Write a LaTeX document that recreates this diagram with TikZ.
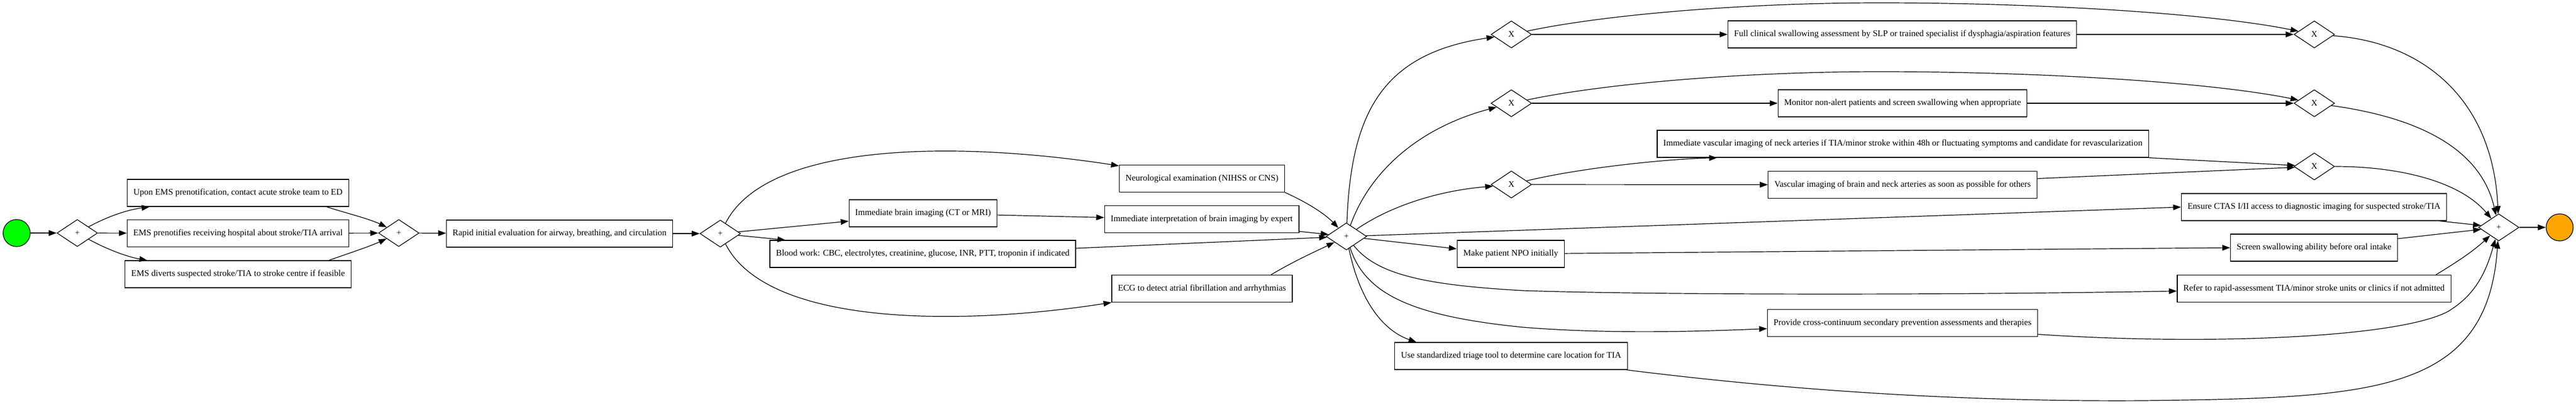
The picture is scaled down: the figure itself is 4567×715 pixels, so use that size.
\documentclass[tikz,border=0pt]{standalone}
\usepackage{fontspec}
\setmainfont{Liberation Serif}
\usetikzlibrary{shapes.geometric,arrows.meta}
\definecolor{startgreen}{HTML}{00FF00}
\definecolor{endorange}{HTML}{FFA500}
\begin{document}
\begin{tikzpicture}[x=1pt,y=-1pt,
  task/.style={draw, line width=1.2pt, rectangle, minimum height=48pt, inner xsep=11pt, inner ysep=0pt, font=\fontsize{15.5}{18}\selectfont},
  gate/.style={draw, line width=1.2pt, diamond, minimum width=72pt, minimum height=48pt, inner sep=0pt, font=\fontsize{15}{18}\selectfont},
  evt/.style={draw, line width=1.2pt, circle, minimum size=48pt, inner sep=0pt},
  flow/.style={draw, line width=1.2pt, -{Triangle[length=14pt,width=10pt]}},
]
\useasboundingbox (0,0) rectangle (4567,715);
% nodes
\node[evt, fill=startgreen] (start) at (29.5,413) {};
\node[gate] (g1) at (137,413) {+};
\node[task] (a1) at (422,342) {Upon EMS prenotification, contact acute stroke team to ED};
\node[task] (a2) at (422,413.5) {EMS prenotifies receiving hospital about stroke/TIA arrival};
\node[task] (a3) at (422,486) {EMS diverts suspected stroke/TIA to stroke centre if feasible};
\node[gate] (g2) at (707,413) {+};
\node[task] (r) at (992,414) {Rapid initial evaluation for airway, breathing, and circulation};
\node[gate] (g3) at (1277,414) {+};
\node[task] (b1) at (1636.5,378) {Immediate brain imaging (CT or MRI)};
\node[task] (b2) at (1636,450) {Blood work: CBC, electrolytes, creatinine, glucose, INR, PTT, troponin if indicated};
\node[task] (nx) at (2131,316.5) {Neurological examination (NIHSS or CNS)};
\node[task] (ii) at (2130.5,388.5) {Immediate interpretation of brain imaging by expert};
\node[task] (ecg) at (2131,511.5) {ECG to detect atrial fibrillation and arrhythmias};
\node[gate] (g4) at (2387,419) {+};
\node[gate] (x1) at (2679.5,61) {X};
\node[gate] (x2) at (2679.5,183) {X};
\node[gate] (x3) at (2679.5,327) {X};
\node[task] (npo) at (2678.5,450) {Make patient NPO initially};
\node[task] (use) at (2679,631) {Use standardized triage tool to determine care location for TIA};
\node[task] (full) at (3372.5,61) {Full clinical swallowing assessment by SLP or trained specialist if dysphagia/aspiration features};
\node[task] (mon) at (3373,183) {Monitor non-alert patients and screen swallowing when appropriate};
\node[task] (iv) at (3373.5,255) {Immediate vascular imaging of neck arteries if TIA/minor stroke within 48h or fluctuating symptoms and candidate for revascularization};
\node[task] (vb) at (3373,327.5) {Vascular imaging of brain and neck arteries as soon as possible for others};
\node[task] (prov) at (3373,572.5) {Provide cross-continuum secondary prevention assessments and therapies};
\node[gate] (xa) at (4103,61) {X};
\node[gate] (xb) at (4103,183) {X};
\node[gate] (xc) at (4103,295) {X};
\node[task] (ctas) at (4102.5,367) {Ensure CTAS I/II access to diagnostic imaging for suspected stroke/TIA};
\node[task] (scr) at (4102.5,439) {Screen swallowing ability before oral intake};
\node[task] (refer) at (4102.5,511.5) {Refer to rapid-assessment TIA/minor stroke units or clinics if not admitted};
\node[gate] (g5) at (4430,403) {+};
\node[evt, fill=endorange] (end) at (4538,403) {};
% edges: first stage
\draw[flow] (start) -- (g1);
\draw[flow] (g1) -- (a2);
\draw[flow] (g1) .. controls (190,384) and (225,372) .. ([xshift=40pt]a1.south west);
\draw[flow] (g1) .. controls (190,442) and (225,455) .. ([xshift=40pt]a3.north west);
\draw[flow] ([xshift=-40pt]a1.south east) .. controls (615,378) and (655,388) .. (g2);
\draw[flow] (a2) -- (g2);
\draw[flow] ([xshift=-40pt]a3.north east) .. controls (615,450) and (655,437) .. (g2);
\draw[flow] (g2) -- (r);
\draw[flow] (r) -- (g3);
% second stage
\draw[flow] (g3) .. controls (1360,250) and (1700,250) .. ([yshift=-2pt]nx.north west);
\draw[flow] (g3) .. controls (1360,578) and (1700,578) .. (ecg.south west);
\draw[flow] (g3) -- ([yshift=-14pt]b1.west);
\draw[flow] (g3) -- ([xshift=28pt]b2.north west);
\draw[flow] (b1) -- ([yshift=3pt]ii.west);
\draw[flow] (nx.south east) .. controls (2320,360) and (2350,380) .. (g4);
\draw[flow] ([yshift=3pt]ii.south east) -- (g4);
\draw[flow] ([yshift=10pt]b2.east) -- (g4);
\draw[flow] ([xshift=-38pt]ecg.north east) .. controls (2295,462) and (2340,442) .. (g4);
% third stage
\draw[flow] (g4) .. controls (2395,200) and (2450,95) .. (x1);
\draw[flow] (g4) .. controls (2430,300) and (2520,225) .. (x2);
\draw[flow] (g4) .. controls (2450,375) and (2530,340) .. (x3);
\draw[flow] (g4) -- (ctas.west);
\draw[flow] (g4) -- ([yshift=9pt]npo.west);
\draw[flow] (npo) -- (scr.west);
\draw[flow] (g4) .. controls (2440,485) and (2520,505) .. (2700,515) .. controls (2900,522) and (3400,524) .. (refer);
\draw[flow] (g4) .. controls (2420,520) and (2500,560) .. (2700,580) .. controls (2850,592) and (3000,588) .. (prov);
\draw[flow] (g4) .. controls (2410,530) and (2450,585) .. ([xshift=39pt]use.north west);
% exclusive branches
\draw[flow] (x1) -- (full);
\draw[flow] (full) -- (xa);
\draw[flow] (x1) .. controls (2850,25) and (3100,5) .. (3332,5) .. controls (3600,5) and (3910,22) .. (xa);
\draw[flow] (x2) -- (mon);
\draw[flow] (mon) -- (xb);
\draw[flow] (x2) .. controls (2850,147) and (3100,127) .. (3332,127) .. controls (3600,127) and (3910,144) .. (xb);
\draw[flow] (x3) .. controls (2800,298) and (2950,282) .. ([xshift=107pt]iv.south west);
\draw[flow] (x3) -- (vb);
\draw[flow] (iv.south east) -- (xc);
\draw[flow] ([yshift=11pt]vb.east) -- (xc);
% final join
\draw[flow] (xa) .. controls (4300,75) and (4420,180) .. (g5);
\draw[flow] (xb) .. controls (4300,210) and (4400,270) .. (g5);
\draw[flow] (xc) .. controls (4250,295) and (4360,320) .. (g5);
\draw[flow] ([xshift=-14pt]ctas.south east) -- (g5);
\draw[flow] ([yshift=16pt]scr.east) -- (g5);
\draw[flow] ([xshift=-27pt]refer.north east) .. controls (4355,465) and (4385,445) .. (g5);
\draw[flow] ([yshift=-20pt]prov.east) .. controls (3900,612) and (4250,600) .. (4340,552) .. controls (4390,522) and (4408,480) .. (g5);
\draw[flow] ([xshift=-2pt]use.south east) .. controls (3200,695) and (3500,712) .. (3800,710) .. controls (4200,705) and (4410,700) .. (g5);
\draw[flow] (g5) -- (end);
\end{tikzpicture}
\end{document}
